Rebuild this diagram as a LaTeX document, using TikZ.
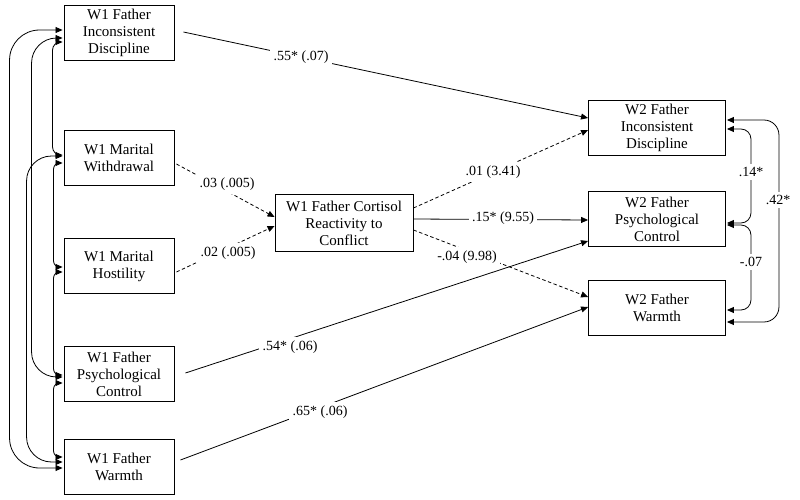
\documentclass[tikz,border=0pt]{standalone}
\usepackage{fontspec}
\setmainfont{Liberation Serif}
\usetikzlibrary{arrows.meta,calc}
\begin{document}
\begin{tikzpicture}[x=1pt,y=-1pt,
  box/.style={draw,line width=0.9pt,align=center,font=\fontsize{15}{17}\selectfont,inner sep=2pt},
  lbox/.style={box,minimum width=110pt,minimum height=55pt},
  cbox/.style={box,minimum width=138pt,minimum height=57pt},
  rbox/.style={box,minimum width=137pt,minimum height=55pt},
  tip/.tip={Triangle[length=7pt,width=6pt]},
  link/.style={line width=0.8pt,-tip},
  dlink/.style={link,dash pattern=on 3.5pt off 2.5pt},
  cov/.style={line width=0.8pt,tip-tip,rounded corners=#1},
  cov/.default=10pt,
  lab/.style={fill=white,inner sep=3.5pt,font=\fontsize{14}{16}\selectfont}
]
\useasboundingbox (0,0) rectangle (800,500);

% W1 boxes
\node[lbox] (w1id) at (119,33) {W1 Father\\Inconsistent\\Discipline};
\node[lbox] (w1wd) at (119,158) {W1 Marital\\Withdrawal};
\node[lbox] (w1ho) at (119,266) {W1 Marital\\Hostility};
\node[lbox] (w1pc) at (119,374) {W1 Father\\Psychological\\Control};
\node[lbox] (w1wa) at (119,467) {W1 Father\\Warmth};
% mediator
\node[cbox] (cen) at (344,223) {W1 Father Cortisol\\Reactivity to\\Conflict};
% W2 boxes
\node[rbox] (w2id) at (657,128) {W2 Father\\Inconsistent\\Discipline};
\node[rbox] (w2pc) at (657,219) {W2 Father\\Psychological\\Control};
\node[rbox] (w2wa) at (657,308) {W2 Father\\Warmth};

% paths
\draw[link] ($(w1id.east)+(9,-1)$) -- ($(w2id.west)+(0,-10)$);
\draw[dlink] ($(w1wd.east)+(2,6)$) -- ($(cen.west)+(0,-6)$);
\draw[dlink] ($(w1ho.east)+(2,6)$) -- ($(cen.west)+(0,3)$);
\draw[dlink] ($(cen.east)+(0,-15)$) -- ($(w2id.west)+(0,2)$);
\draw[link] ($(cen.east)+(0,-4)$) -- ($(w2pc.west)+(0,1)$);
\draw[dlink] ($(cen.east)+(0,7)$) -- ($(w2wa.west)+(0,-11)$);
\draw[link] ($(w1pc.east)+(11,-1)$) -- ($(w2pc.west)+(0,22)$);
\draw[link] ($(w1wa.east)+(6,-7)$) -- ($(w2wa.west)+(0,-1)$);

% left covariances
\draw[cov=30pt] ($(w1id.west)+(-1,-3)$) -- ++(-53,0) |- ($(w1wa.west)+(-1,1)$);
\draw[cov=25pt] ($(w1id.west)+(-1,5)$) -- ++(-31,0) |- ($(w1pc.west)+(-1,3)$);
\draw[cov=8pt] ($(w1id.west)+(-1,9)$) -- ++(-10,0) |- ($(w1wd.west)+(-1,-3)$);
\draw[cov=25pt] ($(w1wd.west)+(-1,-2)$) -- ++(-36,0) |- ($(w1wa.west)+(-1,-5)$);
\draw[cov=6pt] ($(w1wd.west)+(-1,5)$) -- ++(-9,0) |- ($(w1ho.west)+(-1,1)$);
\draw[cov=6pt] ($(w1ho.west)+(-1,6)$) -- ++(-9,0) |- ($(w1pc.west)+(-1,1)$);
\draw[cov=6pt] ($(w1pc.west)+(-1,9)$) -- ++(-9,0) |- ($(w1wa.west)+(-1,-10)$);

% right covariances
\draw[cov=10pt] ($(w2id.east)+(1,1)$) -- ++(24,0) |- ($(w2pc.east)+(1,4)$);
\draw[cov=10pt] ($(w2pc.east)+(1,6)$) -- ++(24,0) |- ($(w2wa.east)+(1,2)$);
\draw[cov=15pt] ($(w2id.east)+(1,-8)$) -- ++(52,0) |- ($(w2wa.east)+(1,14)$);

% labels
\node[lab] (l1) at (301,57) {.55* (.07)};
\node[lab] (l2) at (227,184) {.03 (.005)};
\node[lab] (l3) at (228,253) {.02 (.005)};
\node[lab] (l4) at (493,172) {.01 (3.41)};
\node[lab] (l5) at (503,218) {.15* (9.55)};
\node[lab] (l6) at (467,257) {-.04 (9.98)};
\node[lab] (l7) at (290,347) {.54* (.06)};
\node[lab] (l8) at (320,412) {.65* (.06)};
\node[lab,inner xsep=1pt] (l9) at (751,172) {.14*};
\node[lab,inner xsep=1pt] (l10) at (751,262) {-.07};
\node[lab,inner xsep=1pt] (l11) at (778,200) {.42*};
\end{tikzpicture}
\end{document}
